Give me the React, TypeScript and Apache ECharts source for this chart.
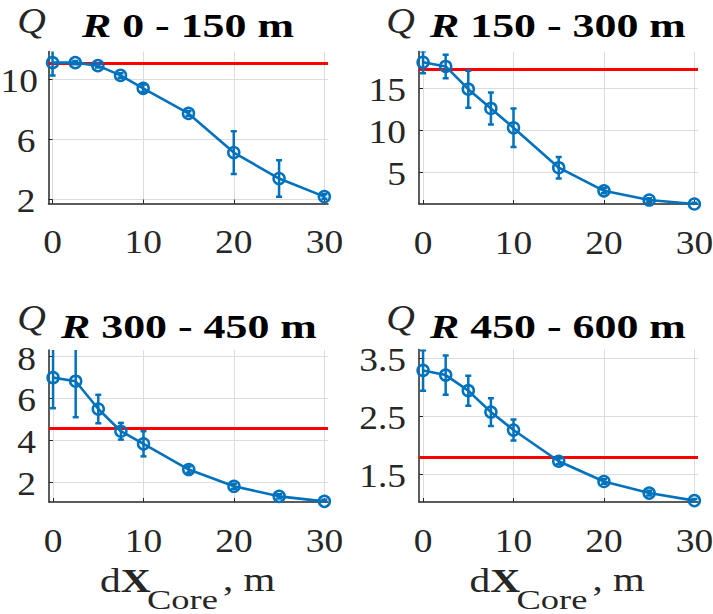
import React, { useEffect, useRef } from "react";
import * as echarts from "echarts";

// ---------- data ----------
const xValues = [0, 2.5, 5, 7.5, 10, 15, 20, 25, 30];

const qR0to150 = [11.09, 11.09, 10.89, 10.24, 9.38, 7.71, 5.11, 3.38, 2.18];
const errR0to150 = [0.85, 0.1, 0.12, 0.15, 0.25, 0.15, 1.42, 1.21, 0.15];

const qR150to300 = [18.1, 17.6, 14.9, 12.6, 10.3, 5.55, 2.8, 1.7, 1.23];
const errR150to300 = [1.3, 1.4, 2.2, 1.9, 2.3, 1.28, 0.3, 0.2, 0.15];

const qR300to450 = [7.0, 6.83, 5.5, 4.44, 3.84, 2.61, 1.81, 1.33, 1.09];
const errR300to450 = [1.46, 1.72, 0.68, 0.4, 0.6, 0.15, 0.12, 0.1, 0.08];

const qR450to600 = [3.29, 3.21, 2.94, 2.57, 2.26, 1.72, 1.37, 1.17, 1.04];
const errR450to600 = [0.35, 0.34, 0.26, 0.24, 0.18, 0.05, 0.04, 0.04, 0.03];

const referenceLevels = [11.02, 17.26, 4.56, 1.79];
const panelRanges = ["0 - 150 m", "150 - 300 m", "300 - 450 m", "450 - 600 m"];

const xTicks = [0, 10, 20, 30];
const xTickLabels = ["0", "10", "20", "30"];
const yTicksP1 = [2, 6, 10];
const yTicksP2 = [5, 10, 15];
const yTicksP3 = [2, 4, 6, 8];
const yTicksP4 = [1.5, 2.5, 3.5];
const yTickLabelsP1 = ["2", "6", "10"];
const yTickLabelsP2 = ["5", "10", "15"];
const yTickLabelsP3 = ["2", "4", "6", "8"];
const yTickLabelsP4 = ["1.5", "2.5", "3.5"];

// ---------- style / layout ----------
const BLUE = "#0072BD";
const RED = "#FF0000";
const INK = "#262626";
const GRID = "#dcdcdc";
const FONT = "Liberation Serif";

const grids = [
  { left: 48.5, top: 51.5, width: 279.5, height: 152 },
  { left: 419, top: 51.5, width: 279, height: 152.5 },
  { left: 49, top: 350, width: 279, height: 152 },
  { left: 419, top: 349.5, width: 279, height: 152.5 },
];
const xRange = [-0.45, 30.4];
const yRanges = [
  [1.72, 11.83],
  [1.23, 19.38],
  [1.06, 8.32],
  [1.016, 3.652],
];

const panels = [
  { q: qR0to150, err: errR0to150, yTicks: yTicksP1, yLabels: yTickLabelsP1 },
  { q: qR150to300, err: errR150to300, yTicks: yTicksP2, yLabels: yTickLabelsP2 },
  { q: qR300to450, err: errR300to450, yTicks: yTicksP3, yLabels: yTickLabelsP3 },
  { q: qR450to600, err: errR450to600, yTicks: yTicksP4, yLabels: yTickLabelsP4 },
];

// title placement (Q symbol centre, title left edge, title centre y)
const titlePos = [
  { qx: 31.5, qy: 20.5, tx: 82, ty: 25 },
  { qx: 400.5, qy: 20.5, tx: 430, ty: 25 },
  { qx: 31.5, qy: 318, tx: 61, ty: 326 },
  { qx: 400.5, qy: 318, tx: 430, ty: 326 },
];

const TICK_SIZE = 34;
const TICK_SCALE = 1.1;

export default function App() {
  const ref = useRef<HTMLDivElement>(null);

  useEffect(() => {
    if (!ref.current) return;
    const chart = echarts.init(ref.current, undefined, { renderer: "svg" });

    const xAxes: any[] = [];
    const yAxes: any[] = [];
    const series: any[] = [];

    panels.forEach((p, i) => {
      xAxes.push({
        type: "value",
        gridIndex: i,
        min: xRange[0],
        max: xRange[1],
        axisLine: { show: true, onZero: false, lineStyle: { color: INK, width: 1.5 } },
        axisTick: { show: true, inside: true, length: 4, customValues: xTicks, lineStyle: { color: INK } },
        axisLabel: { show: false },
        splitLine: { show: true, lineStyle: { color: GRID, width: 1 } },
      });
      yAxes.push({
        type: "value",
        gridIndex: i,
        min: yRanges[i][0],
        max: yRanges[i][1],
        axisLine: { show: true, onZero: false, lineStyle: { color: INK, width: 1.5 } },
        axisTick: { show: true, inside: true, length: 4, customValues: p.yTicks, lineStyle: { color: INK } },
        axisLabel: { show: false },
        splitLine: { show: true, lineStyle: { color: GRID, width: 1 } },
      });

      series.push({
        type: "line",
        xAxisIndex: i,
        yAxisIndex: i,
        data: xValues.map((x, k) => [x, p.q[k]]),
        symbol: "circle",
        symbolSize: 11,
        showAllSymbol: true,
        clip: false,
        z: 4,
        lineStyle: { color: BLUE, width: 2.6 },
        itemStyle: { color: "rgba(0,0,0,0)", borderColor: BLUE, borderWidth: 2.5 },
        emphasis: { disabled: true },
        markLine: {
          silent: true,
          symbol: "none",
          z: 2,
          label: { show: false },
          lineStyle: { color: RED, width: 2.8, type: "solid" },
          emphasis: { disabled: true },
          data: [{ yAxis: referenceLevels[i] }],
        },
      });

      series.push({
        type: "custom",
        xAxisIndex: i,
        yAxisIndex: i,
        clip: true,
        z: 5,
        data: xValues.map((x, k) => [x, p.q[k] - p.err[k], p.q[k] + p.err[k]]),
        encode: { x: 0, y: [1, 2] },
        renderItem: (params: any, api: any) => {
          const x = api.value(0);
          const lo = api.coord([x, api.value(1)]);
          const hi = api.coord([x, api.value(2)]);
          const w = 3;
          const style = { stroke: BLUE, lineWidth: 2.5, fill: "none" };
          return {
            type: "group",
            children: [
              { type: "line", shape: { x1: lo[0], y1: lo[1], x2: hi[0], y2: hi[1] }, style },
              { type: "line", shape: { x1: lo[0] - w, y1: lo[1], x2: lo[0] + w, y2: lo[1] }, style },
              { type: "line", shape: { x1: hi[0] - w, y1: hi[1], x2: hi[0] + w, y2: hi[1] }, style },
            ],
          };
        },
      });
    });

    chart.setOption({
      animation: false,
      backgroundColor: "#ffffff",
      grid: grids.map((g) => ({ ...g, containLabel: false })),
      xAxis: xAxes,
      yAxis: yAxes,
      series,
    });

    // ---------- texts placed through the axes' scales ----------
    const graphics: any[] = [];
    const tickFont = { fontSize: TICK_SIZE, fontFamily: FONT, fill: INK };
    const approxWidth = (s: string) =>
      s.split("").reduce((a, c) => a + (c === "." ? 0.25 : 0.5), 0) * TICK_SIZE * TICK_SCALE;

    panels.forEach((p, i) => {
      const g = grids[i];
      const bottom = g.top + g.height;
      xTicks.forEach((v, k) => {
        const px = chart.convertToPixel({ xAxisIndex: i } as any, v) as number;
        graphics.push({
          type: "text",
          x: px,
          y: bottom + 38.5,
          scaleX: TICK_SCALE,
          silent: true,
          style: { ...tickFont, text: xTickLabels[k], align: "center", verticalAlign: "middle" },
        });
      });
      p.yTicks.forEach((v, k) => {
        const py = chart.convertToPixel({ yAxisIndex: i } as any, v) as number;
        const label = p.yLabels[k];
        const anchor = Math.max(g.left - 13, approxWidth(label) + 0.5);
        graphics.push({
          type: "text",
          x: anchor,
          y: py + 1.5,
          scaleX: TICK_SCALE,
          silent: true,
          style: { ...tickFont, text: label, align: "right", verticalAlign: "middle" },
        });
      });

      // titles
      const t = titlePos[i];
      graphics.push({
        type: "text",
        x: t.qx,
        y: t.qy,
        scaleX: 1.1,
        silent: true,
        style: {
          text: "Q",
          fontSize: 36,
          fontStyle: "italic",
          fontFamily: FONT,
          fill: INK,
          align: "center",
          verticalAlign: "middle",
        },
      });
      graphics.push({
        type: "text",
        x: t.tx,
        y: t.ty,
        scaleX: 1.29,
        silent: true,
        style: {
          text: "{i|R}{b| " + panelRanges[i] + "}",
          fontSize: 34,
          fontWeight: "bold",
          fontFamily: FONT,
          fill: "#000000",
          align: "left",
          verticalAlign: "middle",
          rich: {
            i: { fontSize: 34, fontWeight: "bold", fontStyle: "italic", fontFamily: FONT, fill: "#000000" },
            b: { fontSize: 34, fontWeight: "bold", fontFamily: FONT, fill: "#000000" },
          },
        },
      });
    });

    // x-axis names of the bottom row
    [0, 369.5].forEach((dx) => {
      graphics.push({
        type: "text",
        x: 100 + dx,
        y: 580,
        scaleX: 1.22,
        silent: true,
        style: {
          text: "{n|d}{bx|X}",
          fontSize: 34,
          fontFamily: FONT,
          fill: INK,
          align: "left",
          verticalAlign: "middle",
          rich: {
            n: { fontSize: 34, fontFamily: FONT, fill: INK },
            bx: { fontSize: 34, fontWeight: "bold", fontFamily: FONT, fill: INK },
          },
        },
      });
      graphics.push({
        type: "text",
        x: 147 + dx,
        y: 600,
        scaleX: 1.35,
        silent: true,
        style: {
          text: "Core",
          fontSize: 27,
          fontFamily: FONT,
          fill: INK,
          align: "left",
          verticalAlign: "middle",
        },
      });
      graphics.push({
        type: "text",
        x: 223 + dx,
        y: 580,
        scaleX: 1.2,
        silent: true,
        style: {
          text: ", m",
          fontSize: 34,
          fontFamily: FONT,
          fill: INK,
          align: "left",
          verticalAlign: "middle",
        },
      });
    });

    chart.setOption({ graphic: graphics });

    return () => chart.dispose();
  }, []);

  return (
    <div
      ref={ref}
      style={{ position: "fixed", left: 0, top: 0, width: 713, height: 614, background: "#fff" }}
    />
  );
}
